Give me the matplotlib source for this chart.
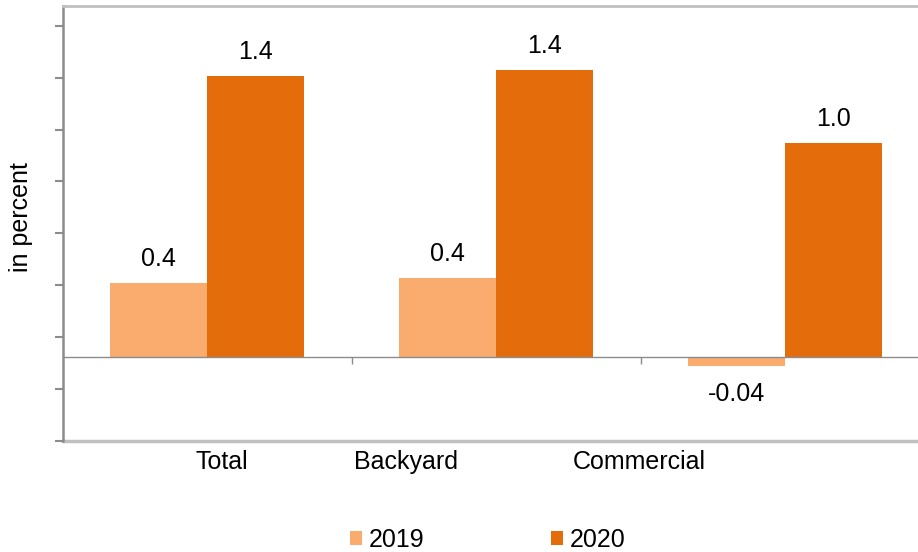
import matplotlib
matplotlib.use("Agg")
import matplotlib.pyplot as plt
import numpy as np

categories = ["Total", "Backyard", "Commercial"]
series_names = ["2019", "2020"]
values_2019 = [0.36, 0.385, -0.042]
values_2020 = [1.366, 1.393, 1.037]
value_labels_2019 = ["0.4", "0.4", "-0.04"]
value_labels_2020 = ["1.4", "1.4", "1.0"]

colors = ["#F9AC6D", "#E46C0A"]

plt.rcParams["font.family"] = ["Liberation Sans", "DejaVu Sans"]
FS = 18

W, H = 918, 552
fig = plt.figure(figsize=(W / 100, H / 100), dpi=100)

# axes geometry in pixels
left_px, right_px, top_px, bottom_px = 62.5, 929.5, 6, 441
ax = fig.add_axes([left_px / W, 1 - bottom_px / H, (right_px - left_px) / W, (bottom_px - top_px) / H])

ymin, ymax = -0.408, 1.704
ax.set_ylim(ymin, ymax)
ax.set_xlim(-0.5, len(categories) - 0.5)

x = np.arange(len(categories))
bw = 0.334
b1 = ax.bar(x - bw / 2, values_2019, width=bw, color=colors[0], label=series_names[0], zorder=2)
b2 = ax.bar(x + bw / 2, values_2020, width=bw, color=colors[1], label=series_names[1], zorder=2)

for rect, v, lab in list(zip(b1, values_2019, value_labels_2019)) + list(zip(b2, values_2020, value_labels_2020)):
    cx = rect.get_x() + rect.get_width() / 2
    if v >= 0:
        ax.annotate(lab, (cx, v), xytext=(0, 12.2), textcoords="offset points",
                    ha="center", va="baseline", fontsize=FS)
    else:
        ax.annotate(lab, (cx, v), xytext=(0, -11.5), textcoords="offset points",
                    ha="center", va="top", fontsize=FS)

# y ticks (no labels)
step = 0.252
ax.set_yticks([ymin + k * step for k in range(9)])
ax.set_yticklabels([])
ax.tick_params(axis="y", direction="out", length=6, width=1.5, color="#8c8c8c")

# spines
ax.spines["left"].set_color("#8c8c8c")
ax.spines["left"].set_linewidth(1.8)
ax.spines["right"].set_visible(False)
ax.spines["top"].set_color("#c0c0c0")
ax.spines["top"].set_linewidth(2)
ax.spines["bottom"].set_position(("data", 0))
ax.spines["bottom"].set_color("#8c8c8c")
ax.spines["bottom"].set_linewidth(1)
ax.spines["bottom"].set_zorder(3)
ax.axhline(ymin, color="#c0c0c0", lw=2.5, clip_on=False, zorder=1)

ax.set_xticks([0.5, 1.5])
ax.set_xticklabels([])
ax.tick_params(axis="x", direction="out", length=5, width=1, color="#8c8c8c")

# category labels (placed as in reference)
label_x = [0.052, 0.688, 1.495]
for lx, c in zip(label_x, categories):
    ax.text(lx, -(469 - 441) / (bottom_px - top_px), c, transform=ax.get_xaxis_transform(),
            ha="center", va="baseline", fontsize=FS)

fig.text(21 / W, 1 - 217 / H, "in percent", rotation=90, ha="center", va="center", fontsize=FS)

leg = fig.legend(handles=[b1, b2], labels=series_names, loc="center",
                 bbox_to_anchor=(487.5 / W, 1 - 540 / H), ncol=2, frameon=False,
                 fontsize=FS, handlelength=0.5, handleheight=0.5, handletextpad=0.25,
                 columnspacing=5.05, borderpad=0, borderaxespad=0)

fig.savefig("out.png", dpi=100)
